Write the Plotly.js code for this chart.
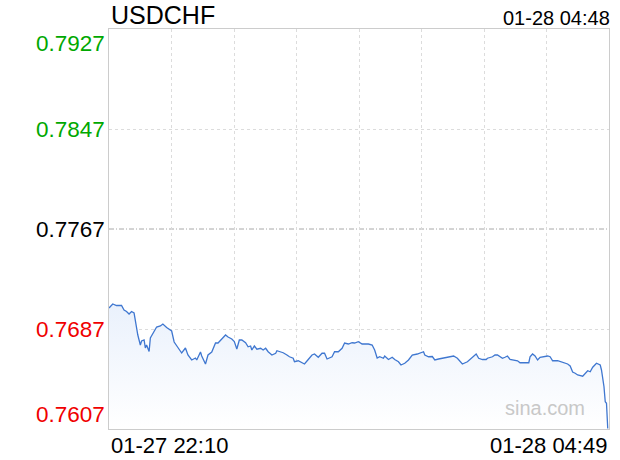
<!DOCTYPE html>
<html>
<head>
<meta charset="utf-8">
<script src="https://cdn.plot.ly/plotly-3.0.1.min.js"></script>
<style>html,body{margin:0;padding:0;background:#fff;}#chart{width:620px;height:460px;}</style>
</head>
<body>
<div id="chart"></div>
<script>
const symbol = 'USDCHF';
const stamp = '01-28 04:48';
const startTime = '2026-01-27 22:10';
const endTime = '2026-01-28 04:49';
const xLabels = ['01-27 22:10', '01-28 04:49'];
const yTicks = [0.7927, 0.7847, 0.7767, 0.7687, 0.7607];
const prevClose = 0.7767;
const watermark = 'sina.com';

// minutes elapsed since 22:10
const minutes = [0,3,6,10,12,14,16,18,20,22,23,25,26,28,29,30,32,33,35,38,41,43,46,49,50,52,53,55,58,61,63,66,69,70,73,74,77,79,82,85,87,90,93,95,98,100,102,104,106,109,111,113,114,116,118,121,123,125,127,130,133,134,137,139,142,144,147,148,151,154,156,159,162,164,167,170,172,174,178,180,183,186,188,191,194,196,199,202,204,207,210,212,214,216,219,220,223,226,228,231,233,236,239,242,246,248,251,252,255,258,260,263,266,268,272,275,278,280,282,286,288,291,293,295,298,301,302,306,308,310,314,316,318,320,322,326,328,332,335,336,338,340,342,344,346,350,352,354,358,362,366,368,370,372,374,378,380,382,384,386,389,392,393,395,396,397,398];
const prices = [0.77038,0.7707,0.77058,0.77058,0.77022,0.7701,0.7699,0.7701,0.76998,0.76854,0.76822,0.76742,0.76774,0.76782,0.76718,0.76742,0.7669,0.76798,0.76838,0.76886,0.76894,0.7691,0.76882,0.76862,0.76854,0.76766,0.7675,0.76718,0.76678,0.76718,0.76662,0.76622,0.76638,0.76622,0.76686,0.76654,0.7659,0.76662,0.76686,0.76758,0.76758,0.7679,0.76822,0.76806,0.7679,0.7677,0.7671,0.76782,0.76782,0.7676,0.76728,0.76734,0.76702,0.76734,0.76708,0.76716,0.76702,0.76716,0.76688,0.76662,0.76676,0.76696,0.76688,0.7668,0.76662,0.76648,0.76636,0.76608,0.76616,0.766,0.7659,0.76626,0.76662,0.7667,0.76644,0.76676,0.76676,0.7663,0.76648,0.76688,0.76688,0.76716,0.76758,0.7675,0.7676,0.76758,0.76768,0.7675,0.7675,0.7675,0.76742,0.76702,0.76638,0.76648,0.76636,0.76654,0.76626,0.76644,0.76626,0.76608,0.76582,0.76596,0.76622,0.76662,0.7667,0.76676,0.76688,0.76662,0.76648,0.7665,0.76622,0.7663,0.76636,0.7664,0.76644,0.76654,0.76636,0.76616,0.7659,0.76608,0.76626,0.76648,0.7667,0.76636,0.76626,0.76626,0.76636,0.76648,0.76662,0.76662,0.76636,0.76644,0.76654,0.76626,0.76622,0.76616,0.766,0.766,0.766,0.76648,0.7667,0.76654,0.76622,0.76644,0.76648,0.76654,0.76648,0.76616,0.76616,0.766,0.7659,0.76574,0.76526,0.76516,0.76502,0.76492,0.76516,0.76536,0.76528,0.76564,0.76596,0.76582,0.76542,0.76408,0.76288,0.76276,0.76074];

function toDate(m) {
  const base = Date.UTC(2026, 0, 27, 22, 10);
  return new Date(base + m * 60000).toISOString().slice(0, 16).replace('T', ' ');
}
const times = minutes.map(toDate);

const FONT = 'Liberation Sans, Arial, Helvetica, sans-serif';
const gridStep = (Date.UTC(2026,0,28,4,49) - Date.UTC(2026,0,27,22,10)) / 8;

const trace = {
  type: 'scatter', mode: 'lines', x: times, y: prices,
  line: {color: '#3f77d0', width: 1.3},
  fill: 'tozeroy',
  fillgradient: {type: 'vertical', start: yTicks[4], stop: 0.7707,
    colorscale: [[0, 'rgb(255,255,255)'], [1, 'rgb(234,241,252)']]},
  hoverinfo: 'skip'
};

const annotations = [];
yTicks.forEach((v, i) => {
  const col = v > prevClose + 1e-9 ? '#00a800' : (v < prevClose - 1e-9 ? '#f00000' : '#000000');
  annotations.push({
    xref: 'paper', yref: 'y', x: 0, y: v, xanchor: 'right',
    yanchor: i === 0 ? 'top' : (i === yTicks.length - 1 ? 'bottom' : 'middle'),
    xshift: -2, text: v.toFixed(4), showarrow: false,
    font: {family: FONT, size: 22.5, color: col}
  });
});
annotations.push({xref: 'paper', yref: 'paper', x: 0, y: 0, xanchor: 'left', yanchor: 'top', yshift: -2,
  text: xLabels[0], showarrow: false, font: {family: FONT, size: 22, color: '#000'}});
annotations.push({xref: 'paper', yref: 'paper', x: 1, y: 0, xanchor: 'right', yanchor: 'top', yshift: -2,
  text: xLabels[1], showarrow: false, font: {family: FONT, size: 22, color: '#000'}});
annotations.push({xref: 'paper', yref: 'paper', x: 0, y: 1, xanchor: 'left', yanchor: 'bottom', yshift: -2,
  text: symbol, showarrow: false, font: {family: FONT, size: 25, color: '#000'}});
annotations.push({xref: 'paper', yref: 'paper', x: 1, y: 1, xanchor: 'right', yanchor: 'bottom', xshift: 3, yshift: -2,
  text: stamp, showarrow: false, font: {family: FONT, size: 20, color: '#000'}});
annotations.push({xref: 'paper', yref: 'paper', x: 0.955, y: 0.02, xanchor: 'right', yanchor: 'bottom',
  text: watermark, showarrow: false, font: {family: FONT, size: 20, color: '#c8c8c8'}});

const layout = {
  width: 620, height: 460,
  margin: {l: 109, r: 11, t: 29, b: 31, pad: 0},
  paper_bgcolor: '#fff', plot_bgcolor: '#fff',
  showlegend: false,
  xaxis: {type: 'date', range: [startTime, endTime], tick0: startTime, dtick: gridStep,
    showticklabels: false, ticks: '', showgrid: true, gridcolor: '#dcdcdc', griddash: 'dot', gridwidth: 1,
    showline: true, linecolor: '#cccccc', linewidth: 1, mirror: true, zeroline: false, fixedrange: true},
  yaxis: {range: [yTicks[4], yTicks[0]], tickvals: [yTicks[1], yTicks[3]],
    showticklabels: false, ticks: '', showgrid: true, gridcolor: '#dcdcdc', griddash: 'dot', gridwidth: 1,
    showline: true, linecolor: '#cccccc', linewidth: 1, mirror: true, zeroline: false, fixedrange: true},
  shapes: [{type: 'line', xref: 'paper', yref: 'y', x0: 0, x1: 1, y0: prevClose, y1: prevClose,
    line: {color: '#a8a8a8', width: 1, dash: '5px,2px,1px,2px'}, layer: 'below'}],
  annotations: annotations
};

Plotly.newPlot('chart', [trace], layout, {displayModeBar: false, staticPlot: true});
</script>
</body>
</html>
